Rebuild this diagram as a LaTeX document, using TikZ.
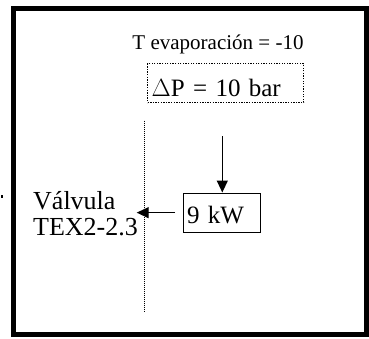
\documentclass[tikz,border=0pt]{standalone}
\usepackage{fontspec}
\setmainfont{Liberation Serif}
\usetikzlibrary{arrows.meta}

\begin{document}
\begin{tikzpicture}[x=1pt,y=-1pt,
	txt/.style={inner sep=0pt,font=\rmfamily\fontsize{25}{26}\selectfont},
	kbox/.style={draw,line width=1.3pt,inner xsep=4pt,inner ysep=0pt,align=left,text depth=0pt,font=\rmfamily\fontsize{25}{26}\selectfont},
	arr/.style={line width=1.3pt,-{Triangle[length=12pt,width=11pt]}}]
		\useasboundingbox (0,0) rectangle (369,338);
		\draw[line width=5pt](13.5,8.5) rectangle (366.5,334.5);
		\fill(0.5,195) rectangle (2.5,197.5);
		\node[txt,anchor=base,font=\rmfamily\fontsize{21}{24}\selectfont](tevap) at (218,49){T evaporación = -10};
		\node[kbox,anchor=north west,dash pattern=on 1.3pt off 1.3pt,minimum height=39pt,text width=148pt,text height=26pt](dp) at (147,63){$\Delta$P = 10 bar};
		\draw[line width=0.6pt,dash pattern=on 0.8pt off 1.2pt](144.3,120.7)--(144.3,311.7);
		\node[kbox,anchor=north west,minimum height=39pt,text width=69.5pt,text height=22pt](nine) at (182.5,192.5){9 kW};
		\node[txt,anchor=base west,align=left,font=\rmfamily\fontsize{26}{26}\selectfont](valv) at (33,235){Válvula\\TEX2-2.3};
		\coordinate (arrtop) at (222.3,136);
		\coordinate (valtip) at (136.7,211);
		\draw[arr](arrtop)--(arrtop |- nine.north);
		\draw[arr]([xshift=-7.5pt]nine.west)--(valtip |- nine.west);
\end{tikzpicture}
\end{document}
